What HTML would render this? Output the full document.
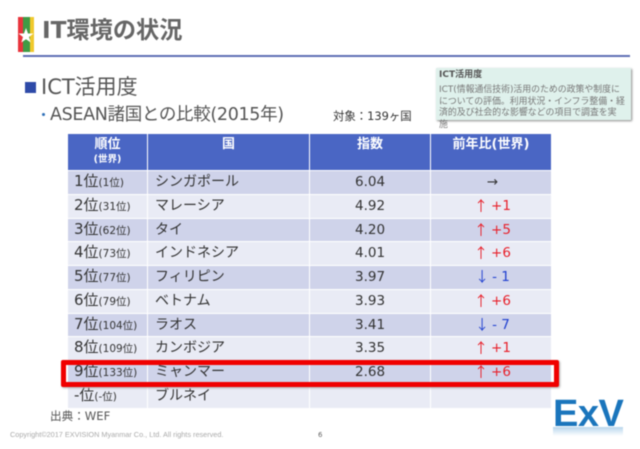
<!DOCTYPE html>
<html lang="ja">
<head>
<meta charset="utf-8">
<title>IT環境の状況</title>
<style>
html,body{margin:0;padding:0;background:#fff}
#slide{position:relative;width:640px;height:449px;overflow:hidden;background:#fff;font-family:"DejaVu Sans","Noto Sans CJK JP",sans-serif;color:#444;filter:blur(.4px)}
.abs{position:absolute;white-space:nowrap}
#grid{position:absolute;left:68px;top:134px;width:483px;display:grid;grid-template-columns:79px 161px 120px 120px;grid-template-rows:36px repeat(10,22.75px);column-gap:1px;row-gap:1px}
#grid>div{box-sizing:border-box;white-space:nowrap;overflow:hidden}
.h{background:#4a66c4;color:#fff;font-weight:bold;text-align:center;font-size:13px;line-height:16px;padding-top:3px}
.h small{display:block;font-size:9.5px;line-height:14px}
.c{font-size:14px;line-height:23px;color:#333}
.o{background:#cfd3ea}.e{background:#e9ebf5}
.r{padding-left:6px;font-size:15px;line-height:21.500px}.r span{font-size:10.5px}
.n{padding-left:7px}
.v{padding-left:45px;font-size:13.5px}
.d{text-align:center;font-size:13.5px;padding-left:3px}
.d i{font-style:normal;font-family:"Noto Sans CJK JP",sans-serif;font-size:14px;line-height:14px;margin-right:3px;display:inline-block;vertical-align:-1px}
.up{color:#e8202a}.dn{color:#2040d0}
</style>
</head>
<body>
<div id="slide">
  <svg class="abs" style="left:18px;top:17px" width="16" height="35" viewBox="0 0 16 35">
    <rect x="0" y="0" width="5" height="35" fill="#e8343c"/>
    <rect x="5" y="0" width="7" height="35" fill="#3f9b45"/>
    <rect x="12" y="0" width="4" height="35" fill="#f0c92c"/>
    <polygon points="8,11 10,16.500 15.500,16.500 11,20 12.700,25.500 8,22.200 3.300,25.500 5,20 0.500,16.500 6,16.500" fill="#fff"/>
  </svg>
  <div class="abs" style="left:42px;top:16px;font-size:23.2px;line-height:30px;font-weight:bold;color:#666;letter-spacing:0">IT環境の状況</div>
  <div class="abs" style="left:23px;top:55px;width:607px;height:2px;background:#5f6fb4"></div>

  <div class="abs" style="left:25px;top:82px;width:11px;height:11px;background:#2e4aa8"></div>
  <div class="abs" style="left:41px;top:72px;font-size:21px;line-height:30px;color:#555">ICT活用度</div>
  <div class="abs" style="left:42px;top:113px;width:3px;height:3px;border-radius:50%;background:#2e6fb8"></div>
  <div class="abs" style="left:50px;top:102px;font-size:17.5px;line-height:26px;color:#555;letter-spacing:-.33px">ASEAN諸国との比較(2015年)</div>
  <div class="abs" style="left:333px;top:108px;font-size:11.4px;line-height:16px;color:#333">対象：139ヶ国</div>

  <div class="abs" style="left:436px;top:68px;width:195px;height:52px;background:#dff1ec;box-shadow:1px 1px 2px #888"></div>
  <div class="abs" style="left:439px;top:69px;font-size:9px;line-height:12px;font-weight:bold;color:#555">ICT活用度</div>
  <div class="abs" style="left:439px;top:85px;font-size:8.9px;line-height:11.6px;color:#777">ICT(情報通信技術)活用のための政策や制度に<br>についての評価。利用状況・インフラ整備・経<br>済的及び社会的な影響などの項目で調査を実<br>施</div>

  <div id="grid">
    <div class="h">順位<small>(世界)</small></div>
    <div class="h">国</div>
    <div class="h">指数</div>
    <div class="h">前年比(世界)</div>

    <div class="c o r">1位<span>(1位)</span></div>
    <div class="c o n">シンガポール</div>
    <div class="c o v">6.04</div>
    <div class="c o d">→</div>

    <div class="c e r">2位<span>(31位)</span></div>
    <div class="c e n">マレーシア</div>
    <div class="c e v">4.92</div>
    <div class="c e d up"><i>↑</i>+1</div>

    <div class="c o r">3位<span>(62位)</span></div>
    <div class="c o n">タイ</div>
    <div class="c o v">4.20</div>
    <div class="c o d up"><i>↑</i>+5</div>

    <div class="c e r">4位<span>(73位)</span></div>
    <div class="c e n">インドネシア</div>
    <div class="c e v">4.01</div>
    <div class="c e d up"><i>↑</i>+6</div>

    <div class="c o r">5位<span>(77位)</span></div>
    <div class="c o n">フィリピン</div>
    <div class="c o v">3.97</div>
    <div class="c o d dn"><i>↓</i>- 1</div>

    <div class="c e r">6位<span>(79位)</span></div>
    <div class="c e n">ベトナム</div>
    <div class="c e v">3.93</div>
    <div class="c e d up"><i>↑</i>+6</div>

    <div class="c o r">7位<span>(104位)</span></div>
    <div class="c o n">ラオス</div>
    <div class="c o v">3.41</div>
    <div class="c o d dn"><i>↓</i>- 7</div>

    <div class="c e r">8位<span>(109位)</span></div>
    <div class="c e n">カンボジア</div>
    <div class="c e v">3.35</div>
    <div class="c e d up"><i>↑</i>+1</div>

    <div class="c o r">9位<span>(133位)</span></div>
    <div class="c o n">ミャンマー</div>
    <div class="c o v">2.68</div>
    <div class="c o d up"><i>↑</i>+6</div>

    <div class="c e r">-位<span>(-位)</span></div>
    <div class="c e n">ブルネイ</div>
    <div class="c e v"></div>
    <div class="c e d"></div>
  </div>

  <div class="abs" style="left:61px;top:360px;width:498px;height:27px;box-sizing:border-box;border:5px solid #f00000;border-radius:2px;box-shadow:1px 1px 2px #aaa"></div>

  <div class="abs" style="left:50px;top:408px;font-size:11.6px;line-height:16px;color:#555">出典：WEF</div>
  <div class="abs" style="left:10px;top:430px;font-size:7.3px;line-height:10px;font-family:'Liberation Sans',sans-serif;color:#aaa">Copyright©2017 EXVISION Myanmar Co., Ltd. All rights reserved.</div>
  <div class="abs" style="left:318px;top:430px;font-size:7px;line-height:10px;color:#666">6</div>

  <div class="abs" style="left:553px;top:392px;font-family:'Liberation Sans',sans-serif;font-weight:bold;font-size:38px;line-height:44px;color:#1a75bc;letter-spacing:-.5px">ExV</div>
  <div class="abs" style="left:553px;top:427px;width:70px;height:9px;background:linear-gradient(#b8d6ec,#fff)"></div>
</div>
</body>
</html>
